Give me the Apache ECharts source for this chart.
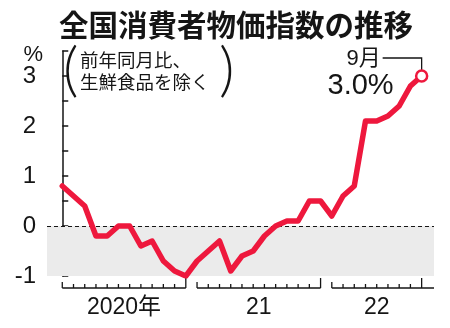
<!DOCTYPE html>
<html>
<head>
<meta charset="utf-8">
<script src="https://cdn.jsdelivr.net/npm/echarts@6/dist/echarts.min.js"></script>
<style>
  html, body { margin: 0; padding: 0; background: #fff; }
  #chart { width: 450px; height: 328px; }
</style>
</head>
<body>
<div id="chart"></div>
<script>
// Core CPI, year-on-year change (%), monthly from Jan 2020
const years = ['2020', '2021', '2022'];
const yearLabels = ['2020年', '21', '22'];
const cpi2020 = [0.8, 0.6, 0.4, -0.2, -0.2, 0.0, 0.0, -0.4, -0.3, -0.7, -0.9, -1.0];
const cpi2021 = [-0.7, -0.5, -0.3, -0.9, -0.6, -0.5, -0.2, 0.0, 0.1, 0.1, 0.5, 0.5];
const cpi2022 = [0.2, 0.6, 0.8, 2.1, 2.1, 2.2, 2.4, 2.8, 3.0];
const yTickLabels = [-1, 0, 1, 2, 3];
const unitLabel = '%';
const titleText = '全国消費者物価指数の推移';
const noteLines = ['前年同月比、', '生鮮食品を除く'];
const latestMonthLabel = '9月';

const RED = '#ee183d';
const INK = '#151515';
const LATIN = '"Liberation Sans", Arial, "Noto Sans CJK JP", sans-serif';
const CJK = '"Noto Sans CJK JP", sans-serif';

const byYear = [cpi2020, cpi2021, cpi2022];
const cpi = [].concat(...byYear);
const points = cpi.map((v, i) => [i, v]);
const lastIndex = cpi.length - 1;
const lastValue = cpi[lastIndex];

// one bracket per calendar year: [first month index, last available month index]
let offset = 0;
const yearSpans = byYear.map((arr, k) => {
  const span = [offset, offset + arr.length - 1, k];
  offset += 12;
  return span;
});

const chart = echarts.init(document.getElementById('chart'), null, { renderer: 'canvas' });

chart.setOption({
  animation: false,
  backgroundColor: '#fff',
  title: {
    text: titleText,
    left: 54,
    top: 5,
    textStyle: { fontFamily: CJK, fontSize: 29.5, fontWeight: 'bold', color: INK }
  },
  grid: { left: 47, right: 16, top: 51, bottom: 52, containLabel: false },
  xAxis: {
    type: 'value',
    min: -1.36,
    max: 33.1,
    show: false
  },
  yAxis: {
    type: 'value',
    min: -1,
    max: 3.5,
    interval: 0.5,
    axisLine: { show: true, lineStyle: { color: INK, width: 1.5 } },
    axisTick: { show: true, inside: true, length: 6, lineStyle: { color: INK, width: 1.5 } },
    splitLine: { show: false },
    axisLabel: {
      fontFamily: LATIN, fontSize: 24, color: INK, margin: 11,
      formatter: v => (yTickLabels.indexOf(v) >= 0 ? String(v) : '')
    }
  },
  graphic: [
    { type: 'text', x: 43, y: 55, style: { text: unitLabel, fontFamily: LATIN, fontSize: 22, fill: INK, align: 'right', verticalAlign: 'middle' } },
    { type: 'text', left: 63, top: 41, style: { text: '(', fontFamily: 'Lato', fontWeight: 300, fontSize: 60, fill: INK } },
    { type: 'text', left: 219, top: 41, style: { text: ')', fontFamily: 'Lato', fontWeight: 300, fontSize: 60, fill: INK } },
    { type: 'text', left: 80, top: 51, style: { text: noteLines[0], fontFamily: CJK, fontSize: 18.5, fill: INK } },
    { type: 'text', left: 80, top: 73, style: { text: noteLines[1], fontFamily: CJK, fontSize: 18.5, fill: INK } }
  ],
  series: [
    {
      type: 'line',
      data: points,
      symbol: 'none',
      z: 4,
      lineStyle: { color: RED, width: 5.5, join: 'round', cap: 'round' },
      markArea: {
        silent: true,
        z: 1,
        itemStyle: { color: '#ebebeb' },
        data: [[{ yAxis: -1 }, { yAxis: 0 }]]
      },
      markLine: {
        silent: true,
        symbol: 'none',
        z: 2,
        label: { show: false },
        lineStyle: { color: INK, width: 1.2, type: [4, 3] },
        data: [{ yAxis: 0 }]
      }
    },
    {
      // latest reading: hollow circle
      type: 'scatter',
      data: [[lastIndex, lastValue]],
      symbol: 'circle',
      symbolSize: 11,
      z: 6,
      itemStyle: { color: '#fff', borderColor: RED, borderWidth: 2.5, opacity: 1 }
    },
    {
      // callout for the latest reading
      type: 'custom',
      z: 5,
      data: [[lastIndex, lastValue]],
      renderItem: (params, api) => {
        const p = api.coord([api.value(0), api.value(1)]);
        return {
          type: 'group',
          children: [
            { type: 'polyline', shape: { points: [[p[0] - 39, p[1] - 18], [p[0], p[1] - 18], [p[0], p[1] - 6]] },
              style: { stroke: INK, lineWidth: 1.3, fill: null } },
            { type: 'text', x: p[0] - 41, y: p[1] - 17,
              style: { text: latestMonthLabel, fontFamily: LATIN, fontSize: 22, fill: INK, align: 'right', verticalAlign: 'middle' } },
            { type: 'text', x: p[0] - 28, y: p[1] + 10,
              style: { text: api.value(1).toFixed(1) + '%', fontFamily: LATIN, fontSize: 29, fill: INK, align: 'right', verticalAlign: 'middle' } }
          ]
        };
      }
    },
    {
      // month ticks grouped into one bracket per year
      type: 'custom',
      z: 3,
      data: yearSpans,
      renderItem: (params, api) => {
        const s = api.value(0);
        const e = api.value(1);
        const k = api.value(2);
        const cs = params.coordSys;
        const base = api.coord([s, -1])[1] + 12;
        const xs = api.coord([s, -1])[0];
        const xDec = Math.min(api.coord([s + 11, -1])[0], cs.x + cs.width);
        const children = [
          { type: 'line', shape: { x1: xs, y1: base, x2: xDec, y2: base },
            style: { stroke: INK, lineWidth: 1.5 } }
        ];
        for (let i = s; i <= e; i++) {
          const x = api.coord([i, -1])[0];
          const h = i === e ? 10 : (i === s ? 6 : 4);
          children.push({ type: 'line', shape: { x1: x, y1: base, x2: x, y2: base - h },
            style: { stroke: INK, lineWidth: 1.3 } });
        }
        const xm = (xs + api.coord([e, -1])[0]) / 2;
        children.push({ type: 'text', x: xm, y: base + 20,
          style: { text: yearLabels[k], fontFamily: LATIN, fontSize: 23, fill: INK, align: 'center', verticalAlign: 'middle' } });
        return { type: 'group', children };
      }
    }
  ]
});
</script>
</body>
</html>
